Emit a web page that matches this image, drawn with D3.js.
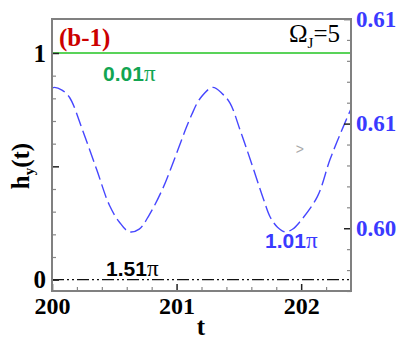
<!DOCTYPE html>
<html><head><meta charset="utf-8">
<script src="https://cdn.jsdelivr.net/npm/d3@7"></script>
<style>body{margin:0;background:#fff}svg{display:block}</style>
</head><body>
<svg id="c" width="399" height="354"></svg>
<script>
// Data
const tBlue = [200.00,200.02,200.08,200.14,200.25,200.36,200.46,200.54,200.62,200.70,200.78,200.89,200.99,201.07,201.12,201.19,201.29,201.37,201.43,201.51,201.59,201.70,201.75,201.81,201.87,201.93,201.99,202.13,202.23,202.31,202.39,202.40];
const hBlue = [0.60669,0.60673,0.60660,0.60626,0.60461,0.60278,0.60111,0.60030,0.59983,0.59996,0.60063,0.60191,0.60342,0.60469,0.60541,0.60621,0.60673,0.60641,0.60597,0.60469,0.60331,0.60135,0.60055,0.60005,0.59983,0.59995,0.60031,0.60151,0.60326,0.60445,0.60557,0.60570];
const tFlat = [200, 202.4];
const hGreen = [1, 1];
const hBlack = [0, 0];
const xMajor = [200, 201, 202];
const xMinor = [200.2,200.4,200.6,200.8,201.2,201.4,201.6,201.8,202.2];
const yLeftMajor = [0, 0.5, 1];
const yLeftLabels = [0, 1];
const yLeftMinor = [0.1,0.2,0.3,0.4,0.6,0.7,0.8,0.9];
const yRightMajor = [0.600, 0.605, 0.610];
const yRightLabels = ['0.60', '0.61', '0.61'];
const yRightMinor = [0.597,0.598,0.599,0.601,0.602,0.603,0.604,0.606,0.607,0.608,0.609];

const svg = d3.select('#c');
const L = 52, R = 351, T = 19, B = 291;
const x = d3.scaleLinear().domain([200, 202.4]).range([L, R]);
const yL = d3.scaleLinear().domain([-0.05, 1.15]).range([B, T]);
const yR = d3.scaleLinear().domain([0.597, 0.610]).range([B, T]);
const serif = "Liberation Serif";
const sans = "Liberation Sans";

svg.append('clipPath').attr('id','pc').append('rect')
  .attr('x', L).attr('y', T).attr('width', R-L).attr('height', B-T);
const g = svg.append('g').attr('clip-path','url(#pc)');

const line = (ys, sc) => d3.line().x((d,i)=>x(tFlat[i])).y(d=>sc(d));
g.append('path').datum(hGreen).attr('d', line(hGreen, yL)).attr('fill','none')
  .attr('stroke','#22c422').attr('stroke-width',1.6);
g.append('path').datum(hBlack).attr('d', line(hBlack, yL)).attr('fill','none')
  .attr('stroke','#111').attr('stroke-width',1.2).attr('stroke-dasharray','12,3,2,3,2,3');
const bl = d3.line().curve(d3.curveCatmullRom).x((d,i)=>x(tBlue[i])).y(d=>yR(d));
g.append('path').datum(hBlue).attr('d', bl).attr('fill','none')
  .attr('stroke','#4646ff').attr('stroke-width',1.4).attr('stroke-dasharray','14,5');

// axes
const tickStyle = sel => sel.call(s=>s.select('.domain').remove());
svg.append('g').attr('transform',`translate(0,${B})`)
  .call(d3.axisTop(x).tickValues(xMinor).tickSize(4).tickFormat(''))
  .call(tickStyle).selectAll('line').attr('stroke','#888').attr('stroke-width',1.2);
svg.append('g').attr('transform',`translate(0,${B})`)
  .call(d3.axisTop(x).tickValues(xMajor).tickSize(7).tickFormat(''))
  .call(tickStyle).selectAll('line').attr('stroke','#222').attr('stroke-width',1.5);
svg.append('g').attr('transform',`translate(0,${B})`)
  .call(d3.axisBottom(x).tickValues(xMajor).tickSize(0).tickPadding(6).tickFormat(d3.format('d')))
  .call(tickStyle).selectAll('text').style('font-family',serif).style('font-weight','bold')
  .style('font-size','24px').attr('fill','#000');

svg.append('g').attr('transform',`translate(${L},0)`)
  .call(d3.axisRight(yL).tickValues(yLeftMinor).tickSize(4).tickFormat(''))
  .call(tickStyle).selectAll('line').attr('stroke','#888').attr('stroke-width',1.2);
svg.append('g').attr('transform',`translate(${L},0)`)
  .call(d3.axisRight(yL).tickValues(yLeftMajor).tickSize(7).tickFormat(''))
  .call(tickStyle).selectAll('line').attr('stroke','#222').attr('stroke-width',1.5);
svg.append('g').attr('transform',`translate(${L},0)`)
  .call(d3.axisLeft(yL).tickValues(yLeftLabels).tickSize(0).tickPadding(6).tickFormat(d3.format('d')))
  .call(tickStyle).selectAll('text').style('font-family',serif).style('font-weight','bold')
  .style('font-size','25px').attr('fill','#000');

svg.append('g').attr('transform',`translate(${R},0)`)
  .call(d3.axisLeft(yR).tickValues(yRightMinor).tickSize(4).tickFormat(''))
  .call(tickStyle).selectAll('line').attr('stroke','#888').attr('stroke-width',1.2);
svg.append('g').attr('transform',`translate(${R},0)`)
  .call(d3.axisLeft(yR).tickValues(yRightMajor).tickSize(7).tickFormat(''))
  .call(tickStyle).selectAll('line').attr('stroke','#222').attr('stroke-width',1.5);
svg.append('g').attr('transform',`translate(${R},0)`)
  .call(d3.axisRight(yR).tickValues(yRightMajor).tickSize(0).tickPadding(5).tickFormat((d,i)=>yRightLabels[i]))
  .call(tickStyle).selectAll('text').style('font-family',serif).style('font-weight','bold')
  .style('font-size','23px').attr('fill','#3a3aff');

// frame
svg.append('rect').attr('x',L).attr('y',T).attr('width',R-L).attr('height',B-T)
  .attr('fill','none').attr('stroke','#808080').attr('stroke-width',2);

// texts
svg.append('text').attr('x',59).attr('y',46).style('font-family',serif).style('font-weight','bold')
  .style('font-size','25px').attr('fill','#cc0000').text('(b-1)');
const om = svg.append('text').attr('x',340).attr('y',42).attr('text-anchor','end')
  .style('font-family',serif).style('font-size','25px').attr('fill','#000');
om.append('tspan').text('Ω');
om.append('tspan').style('font-size','15px').attr('dy',6).text('J');
om.append('tspan').attr('dy',-6).text('=5');

function piLabel(xx, yy, txt, color){
  const t = svg.append('text').attr('x',xx).attr('y',yy).style('font-family',sans)
    .style('font-weight','bold').style('font-size','21px').attr('fill',color);
  t.append('tspan').text(txt);
  t.append('tspan').style('font-family',serif).style('font-weight','normal').style('font-size','23px').text('π');
}
piLabel(103, 81, '0.01', '#12a552');
piLabel(265, 248, '1.01', '#3a3aff');
piLabel(106, 276, '1.51', '#000');

svg.append('text').attr('x', x(201.99)).attr('y', yL(0.555)).attr('text-anchor','middle')
  .style('font-family',sans).style('font-size','14px').attr('fill','#aaa').text('>');

const yl = svg.append('text').attr('transform','translate(29,166) rotate(-90)').attr('text-anchor','middle')
  .style('font-family',serif).style('font-weight','bold').style('font-size','25px').attr('fill','#000');
yl.append('tspan').text('h');
yl.append('tspan').style('font-size','15px').attr('dy',5).text('y');
yl.append('tspan').attr('dy',-5).text('(t)');

svg.append('text').attr('x',201).attr('y',335).attr('text-anchor','middle')
  .style('font-family',serif).style('font-weight','bold').style('font-size','25px').attr('fill','#000').text('t');
</script>
</body></html>
